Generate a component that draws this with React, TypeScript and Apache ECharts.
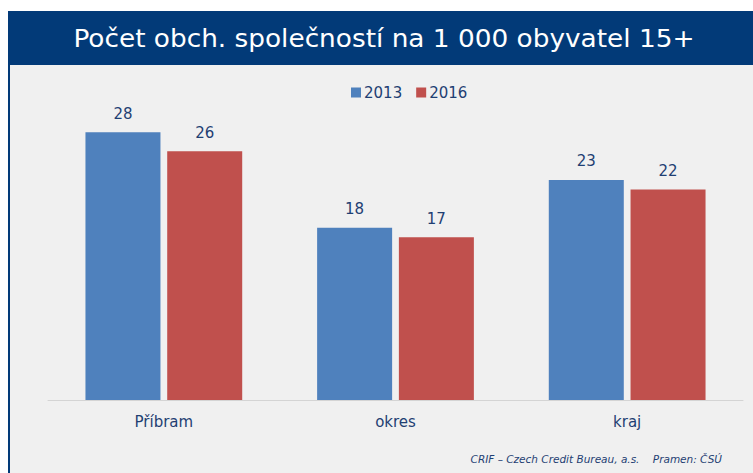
import React, { useEffect, useRef } from "react";
import * as echarts from "echarts";

const categories = ["Příbram", "okres", "kraj"];
const series2013 = [28, 18, 23];
const series2016 = [26, 17, 22];
const seriesNames = ["2013", "2016"];
const titleText = "Počet obch. společností na 1 000 obyvatel 15+";
const footerText = "CRIF – Czech Credit Bureau, a.s.    Pramen: ČSÚ";

const textColor = "#1f3f73";
const font = "'DejaVu Sans', Verdana, sans-serif";

export default function App() {
  const ref = useRef<HTMLDivElement>(null);
  useEffect(() => {
    if (!ref.current) return;
    const chart = echarts.init(ref.current, undefined, { renderer: "svg" });
    chart.setOption({
      animation: false,
      backgroundColor: "#ffffff",
      graphic: [
        { type: "rect", shape: { x: 8, y: 65, width: 745, height: 408 }, style: { fill: "#f0f0f0" }, z: -10 },
        { type: "rect", shape: { x: 8, y: 11, width: 745, height: 54 }, style: { fill: "#023a78" }, z: -5 },
        { type: "rect", shape: { x: 8, y: 11, width: 2, height: 462 }, style: { fill: "#023a78" }, z: -5 },
        {
          type: "text",
          x: 384,
          y: 38,
          scaleX: 1.22,
          style: {
            text: titleText,
            fill: "#ffffff",
            font: `24px 'DejaVu Sans Condensed', 'Liberation Sans Narrow', sans-serif`,
            align: "center",
            verticalAlign: "middle",
          },
        },
        {
          type: "text",
          x: 722,
          y: 459,
          style: {
            text: footerText,
            fill: textColor,
            font: `italic 10.5px ${font}`,
            align: "right",
            verticalAlign: "middle",
          },
        },
      ],
      legend: {
        top: 80,
        left: 346,
        itemWidth: 10,
        itemHeight: 10,
        itemGap: 14,
        icon: "rect",
        textStyle: { color: textColor, fontSize: 15, fontFamily: font, padding: [0, 0, 0, -2] },
        data: seriesNames,
      },
      grid: { left: 48, right: 10, top: 113, bottom: 73, containLabel: false },
      xAxis: {
        type: "category",
        data: categories,
        axisLine: { lineStyle: { color: "#d4d4d4", width: 1 } },
        axisTick: { show: false },
        axisLabel: { color: textColor, fontSize: 15, fontFamily: font, margin: 14 },
      },
      yAxis: {
        type: "value",
        min: 0,
        max: 30,
        show: false,
        splitLine: { show: false },
      },
      series: [
        {
          name: seriesNames[0],
          type: "bar",
          data: series2013,
          barWidth: 75,
          barGap: "9%",
          itemStyle: { color: "#4f81bd" },
          label: { show: true, position: "top", distance: 11, color: textColor, fontSize: 15, fontFamily: font },
        },
        {
          name: seriesNames[1],
          type: "bar",
          data: series2016,
          barWidth: 75,
          barGap: "9%",
          itemStyle: { color: "#c0504d" },
          label: { show: true, position: "top", distance: 11, color: textColor, fontSize: 15, fontFamily: font },
        },
      ],
    });
    return () => chart.dispose();
  }, []);
  return <div ref={ref} style={{ position: "fixed", left: 0, top: 0, width: 753, height: 473 }} />;
}
